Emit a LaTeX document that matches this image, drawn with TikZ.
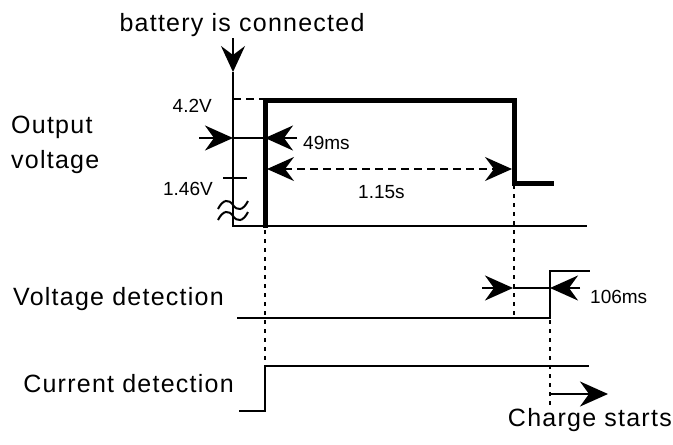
\documentclass[tikz,border=0pt]{standalone}
\usepackage{fontspec}
\setmainfont{Liberation Sans}
\newfontfamily\bigf[LetterSpace=5]{Liberation Sans}
\usetikzlibrary{arrows.meta}
\tikzset{
  thinline/.style={line width=2pt},
  heavy/.style={line width=5pt},
  dotline/.style={line width=2.4pt, dash pattern=on 4pt off 5pt},
  dashline/.style={line width=2pt, dash pattern=on 8pt off 5pt},
  arr/.style={thinline,-{Stealth[length=28pt,width=25pt,inset=9pt]}},
  darr/.style={dashline,{Stealth[length=27pt,width=24pt,inset=9pt]}-{Stealth[length=27pt,width=24pt,inset=9pt]}},
  big/.style={font=\bigf\fontsize{25}{29}\selectfont, inner sep=0pt},
  small/.style={font=\fontsize{19}{22}\selectfont, inner sep=0pt},
}
\begin{document}
\begin{tikzpicture}[x=1pt,y=-1pt]
\useasboundingbox (0,0) rectangle (673,445);
% labels
\node[big,anchor=base] (bat) at (242,31) {battery is connected};
\node[big,anchor=base west] (out) at (11,133) {Output};
\node[big,anchor=base west] (volt) at (11,168) {voltage};
\node[big,anchor=base west] (vdet) at (13,305) {Voltage detection};
\node[big,anchor=base east] (cdet) at (234,392) {Current detection};
\node[big,anchor=base east] (chg) at (672,426) {Charge starts};
\node[small,anchor=base east] (v42) at (212,112) {4.2V};
\node[small,anchor=base east] (v146) at (213,195) {1.46V};
\node[small,anchor=base west] (t49) at (303,149) {49ms};
\node[small,anchor=base west] (t115) at (358,198) {1.15s};
\node[small,anchor=base west] (t106) at (590,303) {106ms};
% coordinates
\coordinate (a0) at (233,38);
\coordinate (a1) at (233,72);
\coordinate (o) at (233,226);
\coordinate (xe) at (587,226);
\coordinate (p0) at (265,228);
\coordinate (p1) at (265,100);
\coordinate (p2) at (514,100);
\coordinate (p3) at (514,183);
\coordinate (p4) at (554,183);
\coordinate (d0) at (233,99);
\coordinate (d1) at (263,99);
\coordinate (m0) at (199,138);
\coordinate (m1) at (233,138);
\coordinate (m2) at (265,138);
\coordinate (m3) at (297,138);
\coordinate (s0) at (267,169);
\coordinate (s1) at (512,169);
\coordinate (k0) at (223,178);
\coordinate (k1) at (247,178);
\coordinate (v0) at (237,318);
\coordinate (v1) at (550,318);
\coordinate (v2) at (550,271);
\coordinate (v3) at (590,271);
\coordinate (n0) at (482,288);
\coordinate (n1) at (513,288);
\coordinate (n2) at (550,288);
\coordinate (n3) at (580,288);
\coordinate (c0) at (239,411);
\coordinate (c1) at (265,411);
\coordinate (c2) at (265,366);
\coordinate (c3) at (589,366);
\coordinate (g0) at (550,394);
\coordinate (g1) at (608,394);
\coordinate (q0) at (514,185);
\coordinate (q1) at (514,318);
\coordinate (r0) at (550,320);
\coordinate (r1) at (550,405);
\coordinate (u0) at (265,230);
\coordinate (u1) at (265,366);
% axis
\draw[thinline,-{Stealth[length=26pt,width=24pt,inset=9pt]}] (a0) -- (a1);
\draw[thinline] (a1) -- (o) -- (xe);
\draw[thinline] (k0) -- (k1);
\draw[thinline] (218,209) .. controls (223,199) and (229,199) .. (233,205) .. controls (237,211) and (243,211) .. (248,201);
\draw[thinline] (218,220) .. controls (223,210) and (229,210) .. (233,216) .. controls (237,222) and (243,222) .. (248,212);
\draw[dashline] (d0) -- (d1);
% output voltage
\draw[heavy,line join=miter] (p0) -- (p1) -- (p2) -- (p3) -- (p4);
% 49ms
\draw[arr] (m0) -- (m1);
\draw[thinline] (m1) -- (m2);
\draw[arr] (m3) -- (m2);
% 1.15s
\draw[darr] (s0) -- (s1);
% dotted guides
\draw[dotline] (u0) -- (u1);
\draw[dotline] (q0) -- (q1);
\draw[dotline] (r0) -- (r1);
% voltage detection
\draw[thinline] (v0) -- (v1) -- (v2) -- (v3);
\draw[arr] (n0) -- (n1);
\draw[thinline] (n1) -- (n2);
\draw[arr] (n3) -- (n2);
% current detection
\draw[thinline] (c0) -- (c1) -- (c2) -- (c3);
\draw[arr] (g0) -- (g1);
\end{tikzpicture}
\end{document}
